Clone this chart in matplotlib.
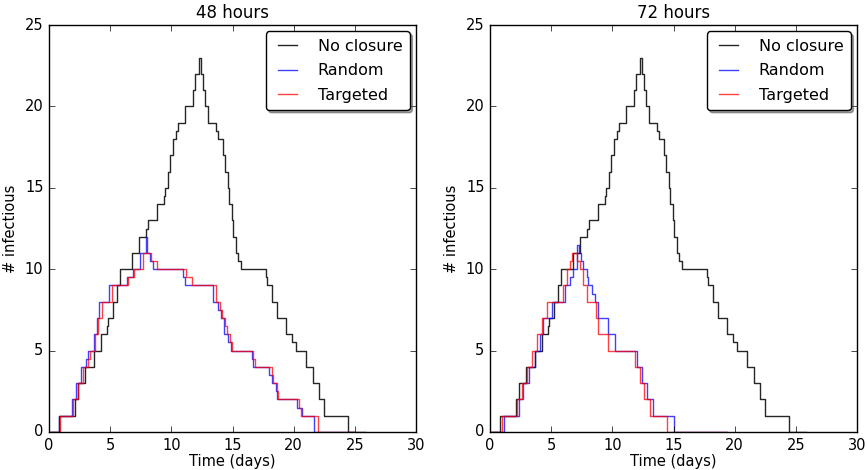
import matplotlib
matplotlib.use("Agg")
import matplotlib.pyplot as plt

plt.style.use("classic")

# no closure (same run in both panels)
nc_t = [0, 0.85, 2.13, 2.40, 2.94, 3.68, 4.22, 4.71, 4.85, 5.20, 5.59, 5.80,
        6.80, 7.39, 7.96, 8.12, 8.80, 9.40, 9.50, 9.70, 9.90, 10.10, 10.40,
        10.52, 11.12, 11.80, 11.97, 12.30, 12.40, 12.55, 12.75, 12.97, 13.65,
        13.80, 14.25, 14.39, 14.60, 14.74, 14.93, 15.07, 15.26, 15.48, 15.67,
        17.72, 17.85, 18.21, 18.67, 19.40, 19.84, 20.20, 21.01, 21.61, 22.10,
        22.49, 24.42, 25.80]
nc_v = [0, 1, 2, 3, 4, 5, 6, 6.5, 7, 8, 9, 10,
        11, 12, 12.5, 13, 14, 14.5, 15, 16, 17, 18, 18.5,
        19, 20, 21, 22, 23, 22, 21, 20, 19, 18.5,
        18, 17, 16, 15, 14, 13, 12, 11, 10.5, 10,
        9.5, 9, 8, 7, 6, 5.5, 5, 4, 3, 2,
        1, 0, 0]

# 48 hours closure
rnd48_t = [0, 0.80, 1.85, 2.20, 2.62, 3.00, 3.16, 3.68, 3.95, 4.11, 4.93,
           6.41, 6.90, 7.44, 7.93, 8.04, 8.25, 8.53, 10.93, 11.12, 13.44,
           13.85, 14.04, 14.31, 14.66, 14.88, 16.57, 16.71, 17.99, 18.21,
           18.29, 18.55, 18.67, 20.30, 20.39, 20.66, 21.70, 24.90]
rnd48_v = [0, 1, 2, 3, 4, 4.5, 5, 6, 7, 8, 9,
           9.5, 10, 11, 12, 11, 10.5, 10, 9.5, 9, 8,
           7.5, 7, 6, 5.5, 5, 4.5, 4, 3.5, 3,
           3, 2.5, 2, 1.5, 1.5, 1, 0, 0]
tgt48_t = [0, 0.93, 1.99, 2.34, 2.75, 3.22, 3.33, 3.76, 4.03, 4.31, 5.12,
           6.49, 6.98, 7.66, 8.32, 8.80, 11.20, 11.66, 13.66, 13.98, 14.12,
           14.39, 14.53, 14.80, 14.93, 16.71, 16.84, 18.21, 18.34, 18.48,
           18.62, 18.75, 20.47, 20.60, 20.88, 22.02, 24.90]
tgt48_v = [0, 1, 2, 3, 4, 4.5, 5, 6, 7, 8, 9,
           9.5, 10, 11, 10.5, 10, 9.5, 9, 8, 7.5, 7,
           6.5, 6, 5.5, 5, 4.5, 4, 3.5, 3, 3,
           2.5, 2, 1.5, 1, 1, 0, 0]

# 72 hours closure
rnd72_t = [0, 1.14, 2.37, 2.73, 3.22, 3.68, 4.09, 4.36, 5.04, 6.13, 6.54,
           6.81, 7.09, 7.15, 7.30, 7.44, 7.63, 7.90, 8.05, 8.35, 8.55, 8.86,
           9.65, 10.22, 12.05, 12.40, 12.86, 13.30, 15.00, 19.40]
rnd72_v = [0, 1, 2, 3, 4, 5, 6, 7, 8, 9, 9.5,
           10, 11, 11.5, 11, 10.5, 10, 9.5, 9, 8.5, 8, 7,
           6, 5, 4, 3, 2, 1, 0, 0]
tgt72_t = [0, 1.01, 2.24, 2.59, 3.00, 3.41, 3.87, 4.23, 4.63, 6.00, 6.32,
           6.50, 6.68, 7.09, 7.36, 7.63, 7.96, 8.67, 8.86, 9.68, 11.86,
           12.27, 12.59, 13.08, 14.50, 19.40]
tgt72_v = [0, 1, 2, 3, 4, 5, 6, 7, 8, 9, 10,
           10.5, 11, 10.5, 10, 9, 8, 7, 6, 5, 4,
           3, 2, 1, 0, 0]

panels = [
    ("48 hours", (rnd48_t, rnd48_v), (tgt48_t, tgt48_v)),
    ("72 hours", (rnd72_t, rnd72_v), (tgt72_t, tgt72_v)),
]

fig = plt.figure(figsize=(8.68, 4.70), dpi=100, facecolor="white")
lefts = [49 / 868.0, 490 / 868.0]
w = 367 / 868.0
b = 1 - 432 / 470.0
h = 407 / 470.0

for i, (title, rnd, tgt) in enumerate(panels):
    ax = fig.add_axes([lefts[i], b, w, h])
    ax.step(nc_t, nc_v, where="post", color="k", lw=1.0, alpha=0.85, label="No closure")
    ax.step(rnd[0], rnd[1], where="post", color="b", lw=1.0, alpha=0.75, label="Random")
    ax.step(tgt[0], tgt[1], where="post", color="r", lw=1.0, alpha=0.75, label="Targeted")
    ax.set_xlim(0, 30)
    ax.set_ylim(0, 25)
    ax.set_xticks(range(0, 31, 5))
    ax.set_yticks(range(0, 26, 5))
    ax.tick_params(labelsize=10.5)
    ax.set_title(title, fontsize=12)
    ax.set_xlabel("Time (days)", fontsize=10.5, labelpad=1)
    ax.set_ylabel("# infectious", fontsize=10.5)
    ax.legend(loc="upper right", fancybox=True, shadow=True, fontsize=11.5,
              handlelength=1.8, handletextpad=1.0, borderaxespad=0.4,
              labelspacing=0.6, borderpad=0.45)

fig.savefig("out.png", dpi=100, facecolor="white")
